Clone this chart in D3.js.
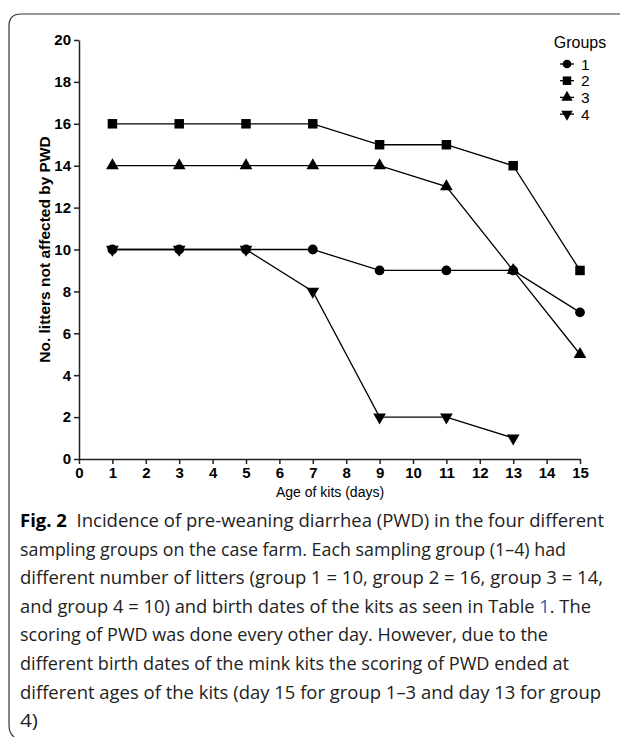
<!DOCTYPE html>
<html>
<head>
<meta charset="utf-8">
<script src="https://cdn.jsdelivr.net/npm/d3@7"></script>
<style>
  body { margin: 0; background: #fff; }
  svg { display: block; }
</style>
</head>
<body>
<div id="chart"></div>
<script>
// data
const days = [1, 3, 5, 7, 9, 11, 13, 15]
const group1 = [10, 10, 10, 10, 9, 9, 9, 7]
const group2 = [16, 16, 16, 16, 15, 15, 14, 9]
const group3 = [14, 14, 14, 14, 14, 13, 9, 5]
const group4 = [10, 10, 10, 8, 2, 2, 1]   // ends at day 13
const groupNames = ["1", "2", "3", "4"]
const xTicks = d3.range(0, 16)
const yTicks = d3.range(0, 21, 2)

const captionLines = [
    [["Fig. 2", true], ["  Incidence of pre-weaning diarrhea (PWD) in the four different", false]],
    [["sampling groups on the case farm. Each sampling group (1–4) had", false]],
    [["different number of litters (group 1 = 10, group 2 = 16, group 3 = 14,", false]],
    [["and group 4 = 10) and birth dates of the kits as seen in Table ", false], ["1", "link"], [". The", false]],
    [["scoring of PWD was done every other day. However, due to the", false]],
    [["different birth dates of the mink kits the scoring of PWD ended at", false]],
    [["different ages of the kits (day 15 for group 1–3 and day 13 for group", false]],
    [["4)", false]]
]
// right end of each caption line in the original
const captionEnds = [604, 566, 603, 591, 548, 569, 601, 38]

const width = 620, height = 737
const svg = d3.select("#chart").append("svg")
    .attr("width", width)
    .attr("height", height)

// frame of the figure box
svg.append("path")
    .attr("fill", "none")
    .attr("stroke", "#333")
    .attr("stroke-width", 1.2)
    .attr("d", "M620,14 L21,14 Q9,14 9,26 L9,725 Q9,733 14,737")

const x = d3.scaleLinear().domain([0, 15]).range([79, 580])
const y = d3.scaleLinear().domain([0, 20]).range([459, 40])

const font = "Liberation Sans, Arial, sans-serif"

// x axis
svg.append("g")
    .attr("transform", `translate(0,${y(0)})`)
    .call(d3.axisBottom(x).tickValues(xTicks).tickSize(5).tickPadding(3).tickSizeOuter(0))
    .call(g => g.select(".domain").attr("stroke", "#222").attr("stroke-width", 1.5))
    .call(g => g.selectAll(".tick line").attr("stroke", "#222").attr("stroke-width", 1.5))
    .call(g => g.selectAll(".tick text")
        .attr("font-family", font).attr("font-size", 15).attr("font-weight", "bold").attr("fill", "#000"))

// y axis
svg.append("g")
    .attr("transform", `translate(${x(0)},0)`)
    .call(d3.axisLeft(y).tickValues(yTicks).tickSize(5).tickPadding(3).tickSizeOuter(0))
    .call(g => g.select(".domain").attr("stroke", "#222").attr("stroke-width", 1.5))
    .call(g => g.selectAll(".tick line").attr("stroke", "#222").attr("stroke-width", 1.5))
    .call(g => g.selectAll(".tick text")
        .attr("font-family", font).attr("font-size", 15).attr("font-weight", "bold").attr("fill", "#000"))

// axis titles
svg.append("text")
    .attr("x", 330).attr("y", 497)
    .attr("text-anchor", "middle")
    .attr("font-family", font).attr("font-size", 14)
    .text("Age of kits (days)")

svg.append("text")
    .attr("transform", `translate(50,${y(10)}) rotate(-90)`)
    .attr("text-anchor", "middle")
    .attr("font-family", font).attr("font-size", 15.5).attr("font-weight", "bold")
    .text("No. litters not affected by PWD")

// series
const series = [group1, group2, group3, group4].map((vals, i) => ({
    name: groupNames[i],
    values: vals.map((v, j) => ({day: days[j], v: v}))
}))
const symTypes = [d3.symbolCircle, d3.symbolSquare, d3.symbolTriangle, d3.symbolTriangle]
const symSizes = [75, 90, 70, 70]
const rot = [0, 0, 0, 180]

const line = d3.line()
    .x(d => x(d.day))
    .y(d => y(d.v))

svg.append("g").selectAll("path")
    .data(series)
    .join("path")
    .attr("fill", "none")
    .attr("stroke", "#000")
    .attr("stroke-width", 1.3)
    .attr("d", d => line(d.values))

series.forEach((s, i) => {
    svg.append("g").selectAll("path")
        .data(s.values)
        .join("path")
        .attr("d", d3.symbol().type(symTypes[i]).size(symSizes[i]))
        .attr("fill", "#000")
        .attr("transform", d => `translate(${x(d.day)},${y(d.v)}) rotate(${rot[i]})`)
})

// legend
svg.append("text")
    .attr("x", 580).attr("y", 48)
    .attr("text-anchor", "middle")
    .attr("font-family", font).attr("font-size", 16)
    .text("Groups")

const leg = svg.append("g").selectAll("g")
    .data(groupNames)
    .join("g")
    .attr("transform", (d, i) => `translate(567,${64 + i * 16.7})`)
leg.append("line")
    .attr("x1", -7).attr("x2", 7)
    .attr("stroke", "#000").attr("stroke-width", 1.3)
leg.append("path")
    .attr("d", (d, i) => d3.symbol().type(symTypes[i]).size(symSizes[i] * 0.8)())
    .attr("transform", (d, i) => `rotate(${rot[i]})`)
    .attr("fill", "#000")
leg.append("text")
    .attr("x", 14).attr("y", 5.5)
    .attr("font-family", font).attr("font-size", 15.5)
    .text(d => d)

// caption, one text per line stretched to the original line width
captionLines.forEach((parts, i) => {
    const t = svg.append("text")
        .attr("x", 20).attr("y", 527 + i * 28.6)
        .attr("font-family", "Open Sans, Noto Sans, sans-serif")
        .attr("font-size", 17.5)
        .attr("fill", "#222")
        .attr("textLength", captionEnds[i] - 20)
        .attr("lengthAdjust", "spacingAndGlyphs")
        .attr("xml:space", "preserve")
    parts.forEach(([txt, style]) => {
        const ts = t.append("tspan").text(txt)
        if (style === true) ts.attr("font-weight", "bold").attr("fill", "#000")
        if (style === "link") ts.attr("fill", "#2a5db0")
    })
})
</script>
</body>
</html>
